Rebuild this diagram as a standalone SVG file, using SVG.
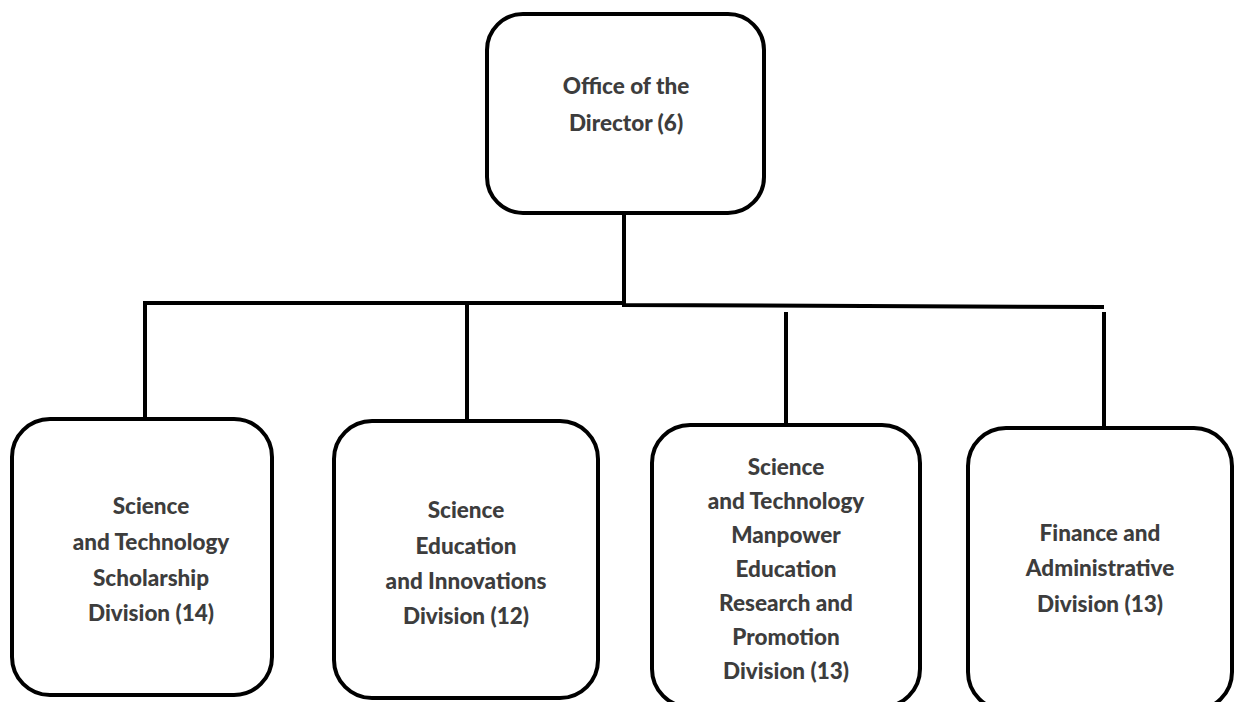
<svg xmlns="http://www.w3.org/2000/svg" width="1236" height="702" viewBox="0 0 1236 702">
<style>
.box{fill:#fff;stroke:#000;stroke-width:4}
.lbl{font-family:Lato,"Open Sans","Liberation Sans",sans-serif;font-weight:900;font-size:22.5px;fill:#3d3d3d;text-anchor:middle;dominant-baseline:central}
.conn{fill:none;stroke:#000;stroke-width:4}
</style>
<rect width="1236" height="702" fill="#fff"/>
<g id="connectors">
<line class="conn" x1="624" y1="213" x2="624" y2="305"/>
<polyline class="conn" points="145,418 145,303 624,303 624,305 1104,307"/>
<line class="conn" x1="467" y1="303" x2="467" y2="422"/>
<line class="conn" x1="786" y1="312" x2="786" y2="425"/>
<line class="conn" x1="1104" y1="312" x2="1104" y2="428"/>
</g>
<g id="director">
<rect class="box" x="487" y="14" width="277" height="199" rx="36"/>
<text class="lbl" x="626" y="85">Office of the</text>
<text class="lbl" x="626" y="122">Director (6)</text>
</g>
<g id="scholarship">
<rect class="box" x="12" y="419" width="260" height="276" rx="38"/>
<text class="lbl" x="151" y="505">Science</text>
<text class="lbl" x="151" y="541">and Technology</text>
<text class="lbl" x="151" y="577">Scholarship</text>
<text class="lbl" x="151" y="612">Division (14)</text>
</g>
<g id="education">
<rect class="box" x="334" y="421" width="264" height="277" rx="38"/>
<text class="lbl" x="466" y="509">Science</text>
<text class="lbl" x="466" y="545">Education</text>
<text class="lbl" x="466" y="580">and Innovations</text>
<text class="lbl" x="466" y="615">Division (12)</text>
</g>
<g id="manpower">
<rect class="box" x="652" y="425" width="268" height="282" rx="38"/>
<text class="lbl" x="786" y="466">Science</text>
<text class="lbl" x="786" y="500">and Technology</text>
<text class="lbl" x="786" y="534">Manpower</text>
<text class="lbl" x="786" y="568">Education</text>
<text class="lbl" x="786" y="602">Research and</text>
<text class="lbl" x="786" y="636">Promotion</text>
<text class="lbl" x="786" y="670">Division (13)</text>
</g>
<g id="finance">
<rect class="box" x="968" y="428" width="264" height="282" rx="38"/>
<text class="lbl" x="1100" y="532">Finance and</text>
<text class="lbl" x="1100" y="567">Administrative</text>
<text class="lbl" x="1100" y="603">Division (13)</text>
</g>
</svg>
